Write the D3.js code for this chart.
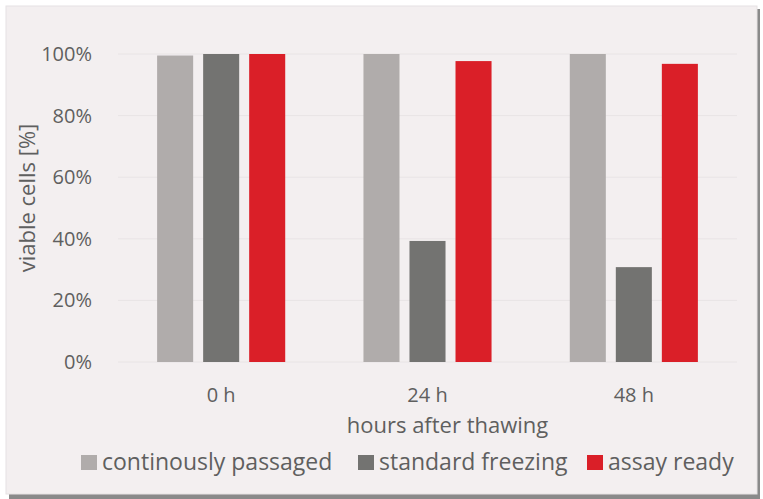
<!DOCTYPE html>
<html>
<head>
    <script src="https://d3js.org/d3.v7.min.js"></script>
    <style>
        body { margin: 0; background-color: #ffffff; }
        text { font-family: "Open Sans", sans-serif; fill: #5f5f5f; }
    </style>
</head>
<body>
    <svg id="canvas" width="763" height="499"></svg>
    <script>
        const svg = d3.select('#canvas');
        const WIDTH = 763;
        const HEIGHT = 499;

        //chart data
        const categories = ['0 h', '24 h', '48 h'];
        const seriesNames = ['continously passaged', 'standard freezing', 'assay ready'];
        const passaged = [99.5, 100, 100];
        const standardFreezing = [100, 39.3, 30.8];
        const assayReady = [100, 97.7, 96.8];
        const yTicks = [0, 20, 40, 60, 80, 100];
        const colors = ['#b0acab', '#737371', '#da1f28'];

        const series = [passaged, standardFreezing, assayReady];

        const margin = { left: 118, right: 737, top: 54, bottom: 362 };

        //panel with shadow
        svg.append('rect')
            .attr('x', 9).attr('y', 9)
            .attr('width', WIDTH - 12).attr('height', HEIGHT - 9)
            .attr('fill', '#8a8a8a');
        svg.append('rect')
            .attr('x', 6).attr('y', 6)
            .attr('width', WIDTH - 12).attr('height', HEIGHT - 11)
            .attr('fill', '#f3eff0')
            .attr('stroke', '#e6e2e3');

        const x = d3.scaleBand()
            .domain(categories)
            .range([margin.left, margin.right]);

        const xInner = d3.scaleBand()
            .domain(d3.range(series.length))
            .range([0, x.bandwidth()])
            .paddingInner(0.217)
            .paddingOuter(0.85);

        const y = d3.scaleLinear()
            .domain([0, 100])
            .range([margin.bottom, margin.top]);

        //gridlines
        svg.append('g')
            .selectAll('line')
            .data(yTicks)
            .join('line')
            .attr('x1', margin.left)
            .attr('x2', margin.right)
            .attr('y1', d => y(d))
            .attr('y2', d => y(d))
            .attr('stroke', '#e8e4e5')
            .attr('stroke-width', 1);

        //y axis labels
        const yAxis = svg.append('g')
            .attr('transform', `translate(${margin.left},0)`)
            .call(d3.axisLeft(y).tickValues(yTicks).tickSize(0).tickPadding(26).tickFormat(d => d + '%'));
        yAxis.select('.domain').remove();
        yAxis.selectAll('text')
            .attr('font-size', 20)
            .attr('fill', '#5f5f5f')
            .attr('font-family', '"Open Sans", sans-serif');

        //bars
        svg.append('g')
            .selectAll('g')
            .data(series)
            .join('g')
            .attr('fill', (d, i) => colors[i])
            .each(function (values, si) {
                d3.select(this).selectAll('rect')
                    .data(values)
                    .join('rect')
                    .attr('x', (v, ci) => x(categories[ci]) + xInner(si))
                    .attr('width', xInner.bandwidth())
                    .attr('y', v => y(v))
                    .attr('height', v => y(0) - y(v));
            });

        //x axis labels
        const xAxis = svg.append('g')
            .attr('transform', `translate(0,${margin.bottom})`)
            .call(d3.axisBottom(x).tickSize(0).tickPadding(26));
        xAxis.select('.domain').remove();
        xAxis.selectAll('text')
            .attr('font-size', 20)
            .attr('fill', '#5f5f5f')
            .attr('font-family', '"Open Sans", sans-serif');

        //axis titles
        svg.append('text')
            .attr('x', (margin.left + margin.right) / 2 + 20)
            .attr('y', 433)
            .attr('text-anchor', 'middle')
            .attr('font-size', 22)
            .text('hours after thawing');

        svg.append('text')
            .attr('transform', `translate(35,198) rotate(-90)`)
            .attr('text-anchor', 'middle')
            .attr('font-size', 22)
            .text('viable cells [%]');

        //legend
        const legendX = [81, 358, 587];
        const legend = svg.append('g')
            .selectAll('g')
            .data(seriesNames)
            .join('g')
            .attr('transform', (d, i) => `translate(${legendX[i]},470)`);
        legend.append('rect')
            .attr('x', 0).attr('y', -15)
            .attr('width', 16).attr('height', 15)
            .attr('fill', (d, i) => colors[i]);
        legend.append('text')
            .attr('x', 21)
            .attr('font-size', 23)
            .text(d => d);
    </script>
</body>
</html>
